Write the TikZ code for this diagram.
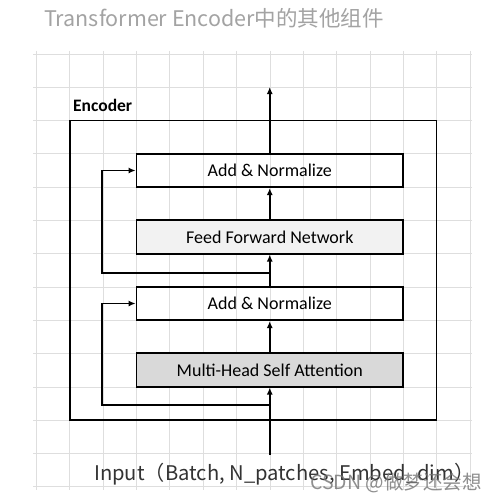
\documentclass[tikz,border=0pt]{standalone}
\usepackage{fontspec}
\setmainfont{Carlito}
\newfontfamily\cjkfont{Noto Sans CJK SC}
\usetikzlibrary{arrows.meta}
\begin{document}
\begin{tikzpicture}[x=1pt,y=-1pt,
  gridline/.style={draw=black!13, line width=0.9pt},
  blockbox/.style={draw=black, line width=1.8pt, minimum width=266.5pt, minimum height=33.3pt, inner sep=0pt, font=\fontsize{18}{20}\selectfont},
  encbox/.style={draw=black, line width=1.8pt, minimum width=366.5pt, minimum height=299.5pt, inner sep=0pt},
  flow/.style={line width=1.5pt, -{Latex[length=7pt,width=6pt]}},
  titletext/.style={text=black!36, font=\cjkfont\fontsize{21.5}{24}\selectfont},
  inputtext/.style={text=black!80, font=\cjkfont\fontsize{20.2}{22}\selectfont},
  marktext/.style={text=black!55, opacity=0.8, font=\cjkfont\fontsize{19.5}{20}\selectfont}]
\useasboundingbox (0,0) rectangle (497,503);
\fill[white] (0,0) rectangle (497,503);
% grid
\foreach \i in {0,...,13} {
  \draw[gridline] ({36.5+33.35*\i},51) -- ({36.5+33.35*\i},490);
  \draw[gridline] (33,{54+33.3*\i}) -- (472,{54+33.3*\i});
}
% title
\node[titletext, anchor=base west, inner sep=0pt] (title) at (44,27) {Transformer Encoder中的其他组件};
% encoder frame
\node[encbox] (enc) at (253.25,270.25) {};
\node[anchor=base west, inner sep=0pt, font=\bfseries\fontsize{17.5}{19}\selectfont] (enclabel) at (73,111) {Encoder};
% blocks
\node[blockbox] (an1) at (269.75,170.5) {Add \& Normalize};
\node[blockbox, fill=black!5] (ffn) at (269.75,237) {Feed Forward Network};
\node[blockbox] (an2) at (269.75,303.5) {Add \& Normalize};
\node[blockbox, fill=black!15] (mhsa) at (269.75,370) {Multi-Head Self Attention};
% coordinates
\coordinate (out) at (269.75,87);
\coordinate (in) at (269.75,455);
\coordinate (b1) at (269.75,405);
\coordinate (b2) at (269.75,273);
% connectors
\draw[flow] (in) -- (mhsa.south);
\draw[flow] (mhsa.north) -- (an2.south);
\draw[flow] (an2.north) -- (ffn.south);
\draw[flow] (ffn.north) -- (an1.south);
\draw[flow] (an1.north) -- (out);
\draw[flow] (b1) -| ([xshift=-33.5pt]an2.west) -- (an2.west);
\draw[flow] (b2) -| ([xshift=-33.5pt]an1.west) -- (an1.west);
% input text
\node[inputtext, anchor=base west, inner sep=0pt] (input) at (94,480) {Input（Batch, N\_patches, Embed\_dim）};
% watermark
\node[marktext, anchor=base west, inner sep=0pt] (mark) at (310,489) {CSDN @做梦还会想};
\end{tikzpicture}
\end{document}
